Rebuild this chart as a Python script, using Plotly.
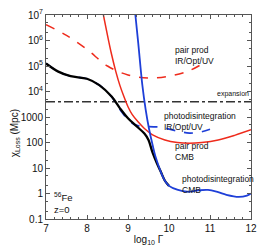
import plotly.graph_objects as go

# log10(Gamma) grids and log10(chi_loss/Mpc) values
x_total = [7.0, 7.3, 7.6, 8.0, 8.3, 8.6, 8.8, 9.0, 9.2, 9.4, 9.5, 9.6, 9.7, 9.8, 9.9, 10.0]
y_total = [5.1, 4.78, 4.6, 4.5, 4.25, 3.8, 3.35, 2.95, 2.65, 2.35, 2.1, 1.6, 1.2, 0.85, 0.5, 0.3]

x_pd_ir = [7.0, 7.3, 7.6, 8.0, 8.3, 8.6, 8.8, 9.0, 9.2, 9.5, 9.8, 10.2, 10.5, 10.8, 11.0]
y_pd_ir = [5.1, 4.78, 4.6, 4.5, 4.25, 3.8, 3.3, 2.9, 2.68, 2.62, 2.6, 2.45, 2.37, 2.42, 2.52]

x_pd_cmb = [9.18, 9.25, 9.35, 9.43, 9.51, 9.6, 9.67, 9.8, 9.9, 10.0, 10.2, 10.45, 10.7, 10.95, 11.2, 11.4, 11.7, 11.9, 12.0]
y_pd_cmb = [7.0, 5.9, 4.25, 3.3, 2.56, 1.9, 1.45, 0.85, 0.5, 0.3, 0.15, 0.07, 0.12, 0.14, 0.05, -0.05, -0.13, -0.08, 0.0]

x_pp_ir = [7.0, 7.5, 8.0, 8.5, 9.0, 9.5, 10.0, 10.5, 10.9]
y_pp_ir = [6.62, 6.2, 5.65, 5.0, 4.65, 4.53, 4.6, 4.82, 5.17]

x_pp_cmb = [8.4, 8.5, 8.6, 8.7, 8.8, 8.9, 9.0, 9.1, 9.25, 9.4, 9.6, 9.9, 10.2, 10.5, 10.8, 11.2, 11.6, 12.0]
y_pp_cmb = [7.0, 6.2, 5.45, 4.8, 4.25, 3.8, 3.4, 3.1, 2.8, 2.55, 2.3, 2.1, 2.0, 1.97, 2.0, 2.1, 2.28, 2.5]

expansion_x = [7.0, 12.0]
expansion_y = [3.6, 3.6]

ytick_vals = [0.1, 1, 10, 100, 1000, 1e4, 1e5, 1e6, 1e7]
ytick_text = ["0.1", "1", "10", "100", "1000", "10<sup>4</sup>", "10<sup>5</sup>", "10<sup>6</sup>", "10<sup>7</sup>"]
xtick_vals = [7, 8, 9, 10, 11, 12]

RED = "#ee2b1c"
BLUE = "#1e3fd8"

def lin(v):
    return [10 ** a for a in v]

fig = go.Figure()
fig.add_trace(go.Scatter(x=expansion_x, y=lin(expansion_y), mode="lines",
                         line=dict(color="#333333", width=1.5, dash="dashdot")))
fig.add_trace(go.Scatter(x=x_pp_ir, y=lin(y_pp_ir), mode="lines", line_shape="spline",
                         line=dict(color=RED, width=1.5, dash="dash")))
fig.add_trace(go.Scatter(x=x_pp_cmb, y=lin(y_pp_cmb), mode="lines", line_shape="spline",
                         line=dict(color=RED, width=1.5)))
fig.add_trace(go.Scatter(x=x_pd_ir, y=lin(y_pd_ir), mode="lines", line_shape="spline",
                         line=dict(color=BLUE, width=1.7, dash="dash")))
fig.add_trace(go.Scatter(x=x_total, y=lin(y_total), mode="lines", line_shape="spline",
                         line=dict(color="black", width=2.3)))
fig.add_trace(go.Scatter(x=x_pd_cmb, y=lin(y_pd_cmb), mode="lines", line_shape="spline",
                         line=dict(color=BLUE, width=1.8)))

FONT = "Liberation Sans, Arial, sans-serif"
fs = 8.5
annots = [
    dict(x=173, y=56, text="pair prod<br>IR/Opt/UV", size=fs),
    dict(x=162, y=121, text="photodisintegration<br>IR/Opt/UV", size=fs),
    dict(x=173, y=151, text="pair prod<br>CMB", size=fs),
    dict(x=180, y=184, text="photodisintegration<br>CMB", size=fs),
    dict(x=52, y=203, text="<sup>56</sup>Fe<br>z=0", size=9.5),
]
for a in annots:
    fig.add_annotation(x=(a["x"] - 46) / 205, y=1 - (a["y"] - 15) / 204, xref="paper", yref="paper",
                       xanchor="left", yanchor="middle", align="left", showarrow=False,
                       text=a["text"], font=dict(size=a["size"], family=FONT, color="#111"))
fig.add_annotation(x=1.0, y=1 - (100 - 15) / 204, xref="paper", yref="paper", xanchor="right",
                   yanchor="bottom", showarrow=False, text="expansion",
                   font=dict(size=7, family=FONT, color="#111"))
fig.add_annotation(x=-0.19, y=0.42, xref="paper", yref="paper", textangle=-90, showarrow=False,
                   text="χ<sub>Loss</sub> (Mpc)", font=dict(size=10, family=FONT, color="#111"))

axis_common = dict(showline=True, linecolor="#555", linewidth=1, mirror="allticks",
                   ticks="inside", ticklen=4, tickcolor="#555", showgrid=False, zeroline=False,
                   automargin=False, tickfont=dict(size=10, family=FONT, color="#111"))
fig.update_xaxes(range=[7, 12], tickvals=xtick_vals,
                 title=dict(text="log<sub>10</sub> Γ", font=dict(size=10, family=FONT, color="#111"), standoff=2),
                 minor=dict(ticks="inside", ticklen=2, dtick=0.2, tickcolor="#555"), **axis_common)
fig.update_yaxes(type="log", range=[-1, 7], tickvals=ytick_vals, ticktext=ytick_text,
                 minor=dict(ticks="inside", ticklen=2, tickcolor="#555", showgrid=False), **axis_common)
# the page body adds an 8px offset; size/margins compensate so the plot sits where the reference has it
fig.update_layout(width=258, height=242, margin=dict(l=38, r=15, t=7, b=31),
                  plot_bgcolor="white", paper_bgcolor="white", showlegend=False)
fig.write_html("out.html")
